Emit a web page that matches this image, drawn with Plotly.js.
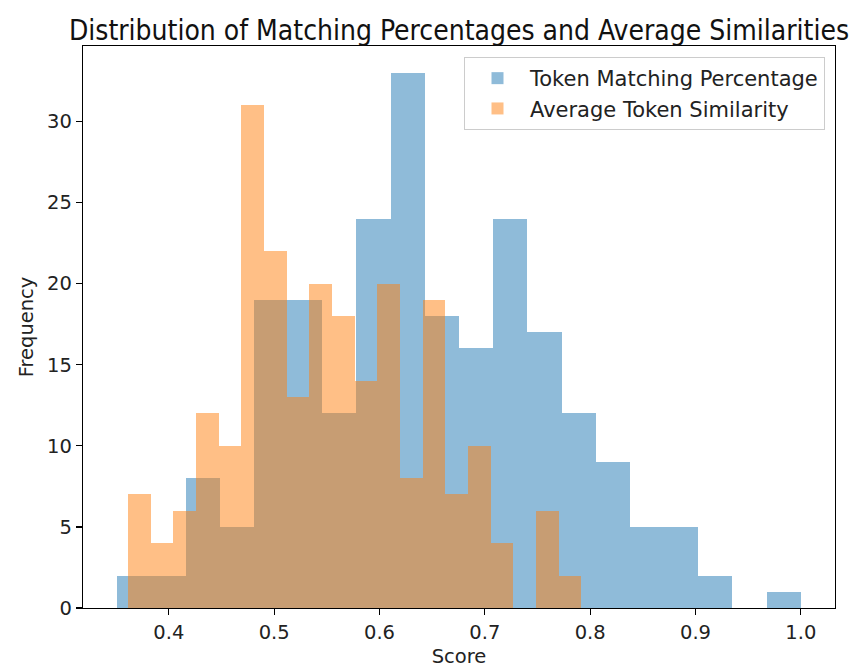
<!DOCTYPE html>
<html>
<head>
<meta charset="utf-8">
<script src="https://cdn.plot.ly/plotly-3.0.1.min.js"></script>
<style>html,body{margin:0;padding:0;background:#fff;}#chart{width:853px;height:668px;}</style>
</head>
<body>
<div id="chart"></div>
<script>
// Histogram counts (20 bins each)
const seriesNames = ["Token Matching Percentage", "Average Token Similarity"];
const tokenMatchingRange = [0.351, 1.0];
const tokenMatchingCounts = [2, 2, 8, 5, 19, 19, 12, 24, 33, 18, 16, 24, 17, 12, 9, 5, 5, 2, 0, 1];
const avgSimilarityRange = [0.3613, 0.7915];
const avgSimilarityCounts = [7, 4, 6, 12, 10, 31, 22, 13, 20, 18, 14, 20, 8, 19, 7, 10, 4, 0, 6, 2];
const xTicks = [0.4, 0.5, 0.6, 0.7, 0.8, 0.9, 1.0];
const yTicks = [0, 5, 10, 15, 20, 25, 30];

function binCenters(range, counts) {
  const w = (range[1] - range[0]) / counts.length;
  return counts.map((_, i) => range[0] + w * (i + 0.5));
}
function binWidth(range, counts) { return (range[1] - range[0]) / counts.length; }

const font = "DejaVu Sans, sans-serif";
const titleFont = "DejaVu Sans Condensed, DejaVu Sans, sans-serif";
const traces = [
  {
    type: "bar", name: seriesNames[0], legendgroup: "a",
    x: binCenters(tokenMatchingRange, tokenMatchingCounts),
    y: tokenMatchingCounts,
    width: binWidth(tokenMatchingRange, tokenMatchingCounts),
    marker: {color: "rgba(31,119,180,0.5)", line: {width: 0}},
    hoverinfo: "x+y"
  },
  {
    type: "bar", name: seriesNames[1], legendgroup: "b",
    x: binCenters(avgSimilarityRange, avgSimilarityCounts),
    y: avgSimilarityCounts,
    width: binWidth(avgSimilarityRange, avgSimilarityCounts),
    marker: {color: "rgba(255,127,14,0.5)", line: {width: 0}},
    hoverinfo: "x+y"
  }
];

const allMin = Math.min(tokenMatchingRange[0], avgSimilarityRange[0]);
const allMax = Math.max(tokenMatchingRange[1], avgSimilarityRange[1]);
const pad = (allMax - allMin) * 0.05;
const yMax = Math.max(...tokenMatchingCounts, ...avgSimilarityCounts) * 1.05;

const layout = {
  width: 853, height: 668,
  margin: {l: 83, r: 18, t: 46, b: 60, pad: 0},
  paper_bgcolor: "#fff", plot_bgcolor: "#fff",
  barmode: "overlay", bargap: 0,
  font: {family: font, size: 19.5, color: "#222"},
  title: {
    text: "Distribution of Matching Percentages and Average Similarities",
    font: {family: titleFont, size: 28, color: "#111"},
    x: 0.5, xref: "paper", xanchor: "center",
    y: 1 - 30 / 668, yref: "container", yanchor: "middle"
  },
  xaxis: {
    range: [allMin - pad, allMax + pad],
    tickvals: xTicks, ticktext: xTicks.map(v => v.toFixed(1)),
    ticks: "outside", ticklen: 6, tickwidth: 1.2, tickcolor: "#000",
    showline: true, linecolor: "#000", linewidth: 1.2, mirror: true,
    showgrid: false, zeroline: false,
    tickfont: {family: font, size: 19.5, color: "#222"},
    title: {text: "Score", font: {family: font, size: 19.5, color: "#222"}, standoff: 6}
  },
  yaxis: {
    range: [0, yMax],
    tickvals: yTicks,
    ticks: "outside", ticklen: 6, tickwidth: 1.2, tickcolor: "#000",
    showline: true, linecolor: "#000", linewidth: 1.2, mirror: true,
    showgrid: false, zeroline: false,
    tickfont: {family: font, size: 19.5, color: "#222"},
    title: {text: "Frequency", font: {family: font, size: 19.5, color: "#222"}, standoff: 8}
  },
  legend: {
    x: (825 - 83) / (835 - 83), xanchor: "right", y: (608 - 57) / (608 - 46), yanchor: "top",
    bgcolor: "rgba(255,255,255,0.8)", bordercolor: "#cccccc", borderwidth: 1,
    font: {family: font, size: 21, color: "#222"},
    traceorder: "normal", tracegroupgap: 3, itemwidth: 55
  },
  showlegend: true
};

Plotly.newPlot("chart", traces, layout, {displayModeBar: false, staticPlot: true});
</script>
</body>
</html>
